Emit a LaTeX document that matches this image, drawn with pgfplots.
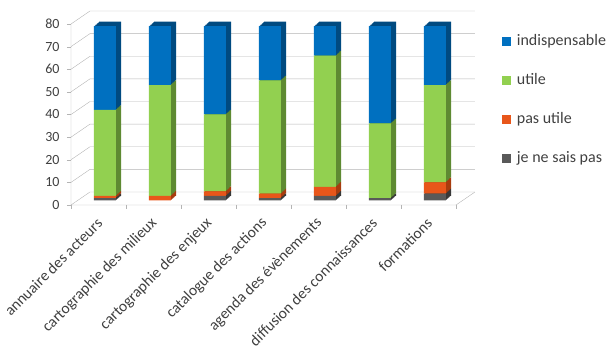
\documentclass[border=0pt]{standalone}
\usepackage{pgfplots}
\pgfplotsset{compat=1.18}
\usepackage{pgfplotstable}
\usepackage{fontspec}
\setmainfont{Carlito}
\definecolor{cblue}{HTML}{0070C0}
\definecolor{cblued}{HTML}{004A80}
\definecolor{cgreen}{HTML}{92D050}
\definecolor{cgreend}{HTML}{5E8A32}
\definecolor{corange}{HTML}{E8561A}
\definecolor{coranged}{HTML}{A83C0E}
\definecolor{cgray}{HTML}{595959}
\definecolor{cgrayd}{HTML}{383838}
\definecolor{gridc}{HTML}{B4B4B4}
\definecolor{txt}{HTML}{404040}

\pgfplotstableread{
x dk pu ut in
0 1 1 38 37
1 0 2 49 26
2 2 2 34 39
3 1 2 50 24
4 2 4 58 13
5 1 0 33 43
6 3 5 43 26
}\data

\pgfplotsset{
  base/.style={scale only axis, width=385pt, height=181pt,
    xmin=-0.5, xmax=6.5, ymin=0, ymax=80, anchor=south west, clip=false},
  barsax/.style={base, hide axis, ybar stacked, bar width=22pt},
}

\begin{document}
\begin{tikzpicture}[x=1pt,y=1pt]
\path[use as bounding box] (0,0) rectangle (614,355);

% front axis: labels, walls, grid
\begin{axis}[base, at={(71pt,150pt)},
  axis line style={draw=none},
  xtick={0,...,6}, xtick style={draw=none},
  xticklabels={annuaire des acteurs, cartographie des milieux, cartographie des enjeux, catalogue des actions, agenda des évènements, diffusion des connaissances, formations},
  xticklabel style={rotate=45, anchor=east, xshift=-4pt, yshift=-9pt,
    font=\fontsize{15.5}{18}\selectfont, text=txt},
  ytick={0,10,...,80}, ytick pos=left, tick align=outside,
  major tick length=4pt, ytick style={draw=gridc},
  /pgf/number format/assume math mode=true,
  yticklabel style={font=\fontsize{14}{16}\selectfont, text=txt, xshift=-4pt},
]
\addplot[gridc, forget plot] coordinates {(-0.5,0) (-0.15455,5.746) (6.84545,5.746)};
\addplot[gridc, forget plot] coordinates {(-0.5,10) (-0.15455,15.746) (6.84545,15.746)};
\addplot[gridc, forget plot] coordinates {(-0.5,20) (-0.15455,25.746) (6.84545,25.746)};
\addplot[gridc, forget plot] coordinates {(-0.5,30) (-0.15455,35.746) (6.84545,35.746)};
\addplot[gridc, forget plot] coordinates {(-0.5,40) (-0.15455,45.746) (6.84545,45.746)};
\addplot[gridc, forget plot] coordinates {(-0.5,50) (-0.15455,55.746) (6.84545,55.746)};
\addplot[gridc, forget plot] coordinates {(-0.5,60) (-0.15455,65.746) (6.84545,65.746)};
\addplot[gridc, forget plot] coordinates {(-0.5,70) (-0.15455,75.746) (6.84545,75.746)};
\addplot[gridc, forget plot] coordinates {(-0.5,80) (-0.15455,85.746) (6.84545,85.746)};
\addplot[gridc, forget plot] coordinates {(-0.5,80) (-0.5,0) (6.5,0) (6.84545,5.746)};
\addplot[gridc, forget plot] coordinates {(-0.5,0) (-0.5,-1.768)};
\addplot[gridc, forget plot] coordinates {(0.5,0) (0.5,-1.768)};
\addplot[gridc, forget plot] coordinates {(1.5,0) (1.5,-1.768)};
\addplot[gridc, forget plot] coordinates {(2.5,0) (2.5,-1.768)};
\addplot[gridc, forget plot] coordinates {(3.5,0) (3.5,-1.768)};
\addplot[gridc, forget plot] coordinates {(4.5,0) (4.5,-1.768)};
\addplot[gridc, forget plot] coordinates {(5.5,0) (5.5,-1.768)};
\addplot[gridc, forget plot] coordinates {(6.5,0) (6.5,-1.768)};
\end{axis}

% shadow (3D depth), stepped to approximate slanted faces
\foreach \k in {6,5,...,1}{
\begin{axis}[barsax, at={({77.5pt+0.85pt*\k},{154.6pt+0.77pt*\k})}]
\addplot[fill=cgrayd, draw=none] table[x=x, y=dk] {\data};
\addplot[fill=coranged, draw=none] table[x=x, y=pu] {\data};
\addplot[fill=cgreend, draw=none] table[x=x, y=ut] {\data};
\addplot[fill=cblued, draw=none] table[x=x, y=in] {\data};
\end{axis}
}

% front faces
\begin{axis}[barsax, at={(77.5pt,154.6pt)},
  legend image code/.code={\path[#1, draw=none] (0pt,-4.3pt) rectangle (8.7pt,4.3pt);},
  reverse legend,
  legend cell align=left,
  legend style={at={(1.1026,0.930)}, anchor=north west, draw=none, fill=none,
    inner sep=0pt, row sep=21pt, column sep=4pt, font=\fontsize{16}{19}\selectfont, text=txt,
    nodes={inner xsep=2pt, inner ysep=1pt, text height=12pt, text depth=4pt}},
]
\addplot[fill=cgray, draw=none] table[x=x, y=dk] {\data};
\addplot[fill=corange, draw=none] table[x=x, y=pu] {\data};
\addplot[fill=cgreen, draw=none] table[x=x, y=ut] {\data};
\addplot[fill=cblue, draw=none] table[x=x, y=in] {\data};
\legend{je ne sais pas, pas utile, utile, indispensable}
\end{axis}
\end{tikzpicture}
\end{document}
